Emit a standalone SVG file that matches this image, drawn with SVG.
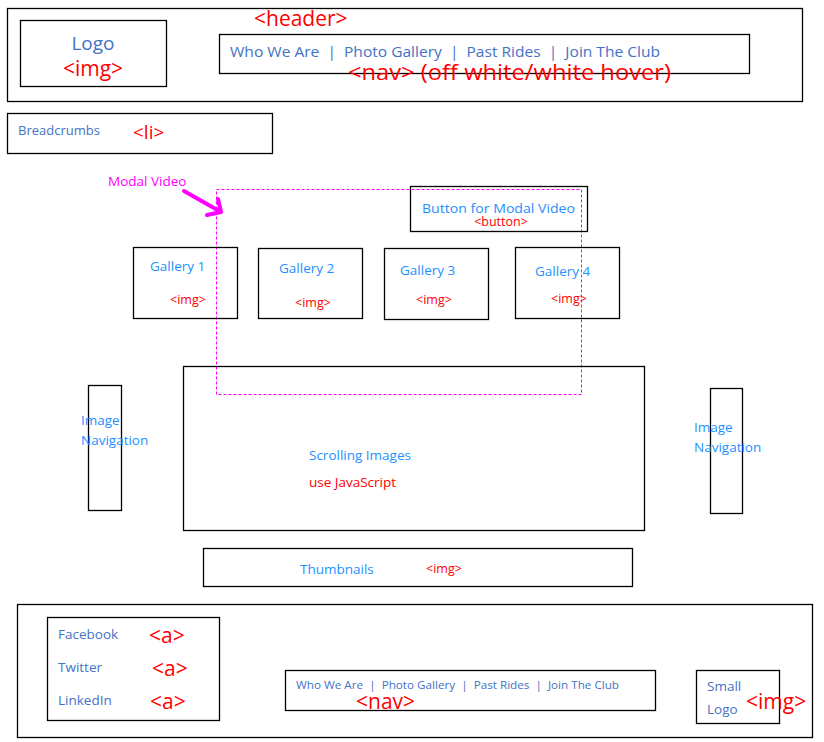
<svg xmlns="http://www.w3.org/2000/svg" width="824" height="742" viewBox="0 0 824 742">
<style>
.box{fill:none;stroke:#000;stroke-width:1.3}
text{font-family:"Open Sans","Liberation Sans",sans-serif}
.b1{fill:#4472C4}
.b2{fill:#1E90FF}
.r{fill:#FF0000}
.m{fill:#FF00FF}
</style>
<rect width="824" height="742" fill="#fff"/>
<g id="header">
<rect class="box" x="7.5" y="8.5" width="795" height="93"/>
<text class="r" x="254" y="26" font-size="21">&lt;header&gt;</text>
</g>
<g id="logo">
<rect class="box" x="20.5" y="20.5" width="146" height="66"/>
<text class="b1" x="93" y="50" font-size="19" text-anchor="middle">Logo</text>
<text class="r" x="93" y="76" font-size="21" text-anchor="middle">&lt;img&gt;</text>
</g>
<g id="nav">
<rect class="box" x="219.5" y="34.5" width="530" height="39"/>
<text class="b1" x="230" y="57" font-size="15" textLength="430" lengthAdjust="spacingAndGlyphs">Who We Are&#160;&#160;|&#160;&#160;Photo Gallery&#160;&#160;|&#160;&#160;Past Rides&#160;&#160;|&#160;&#160;Join The Club</text>
<text class="r" x="348" y="80" font-size="21" textLength="323" lengthAdjust="spacingAndGlyphs">&lt;nav&gt; (off white/white hover)</text>
</g>
<g id="breadcrumbs">
<rect class="box" x="7.5" y="113.5" width="265" height="40"/>
<text class="b1" x="18" y="135" font-size="13">Breadcrumbs</text>
<text class="r" x="133" y="139" font-size="19">&lt;li&gt;</text>
</g>
<g id="modal-video">
<rect x="216.5" y="189.5" width="365" height="205" fill="none" stroke="#FF00FF" stroke-width="1" stroke-dasharray="3,2"/>
<text class="m" x="108" y="186" font-size="13.5">Modal Video</text>
</g>
<g id="button">
<rect class="box" x="410.5" y="186.5" width="177" height="45"/>
<text class="b2" x="422" y="213" font-size="13.5" textLength="153" lengthAdjust="spacingAndGlyphs">Button for Modal Video</text>
<text class="r" x="501" y="226" font-size="12.5" text-anchor="middle">&lt;button&gt;</text>
</g>
<g id="gallery1">
<rect class="box" x="133.5" y="247.5" width="104" height="71"/>
<text class="b2" x="150" y="271" font-size="13.5">Gallery 1</text>
<text class="r" x="170" y="304" font-size="12.5">&lt;img&gt;</text>
</g>
<g id="gallery2">
<rect class="box" x="258.5" y="248.5" width="104" height="70"/>
<text class="b2" x="279" y="273" font-size="13.5">Gallery 2</text>
<text class="r" x="295" y="307" font-size="12.5">&lt;img&gt;</text>
</g>
<g id="gallery3">
<rect class="box" x="384.5" y="248.5" width="104" height="71"/>
<text class="b2" x="400" y="275" font-size="13.5">Gallery 3</text>
<text class="r" x="416" y="304" font-size="12.5">&lt;img&gt;</text>
</g>
<g id="gallery4">
<rect class="box" x="515.5" y="247.5" width="104" height="71"/>
<text class="b2" x="535" y="276" font-size="13.5">Gallery 4</text>
<text class="r" x="551" y="303" font-size="12.5">&lt;img&gt;</text>
</g>
<g id="scrolling">
<rect class="box" x="183.5" y="366.5" width="461" height="164"/>
<text class="b2" x="309" y="460" font-size="13.5">Scrolling Images</text>
<text class="r" x="309" y="487" font-size="13.5">use JavaScript</text>
</g>
<g id="image-nav-left">
<rect class="box" x="88.5" y="385.5" width="33" height="125"/>
<text class="b2" x="81" y="425" font-size="13.5">Image</text>
<text class="b2" x="81" y="445" font-size="13.5">Navigation</text>
</g>
<g id="image-nav-right">
<rect class="box" x="710.5" y="388.5" width="32" height="125"/>
<text class="b2" x="694" y="432" font-size="13.5">Image</text>
<text class="b2" x="694" y="452" font-size="13.5">Navigation</text>
</g>
<g id="thumbnails">
<rect class="box" x="203.5" y="548.5" width="429" height="38"/>
<text class="b2" x="300" y="574" font-size="13.5">Thumbnails</text>
<text class="r" x="426" y="573" font-size="12.5">&lt;img&gt;</text>
</g>
<g id="footer">
<rect class="box" x="17.5" y="604.5" width="795" height="133"/>
</g>
<g id="social">
<rect class="box" x="47.5" y="617.5" width="172" height="103"/>
<text class="b1" x="58" y="639" font-size="13.5">Facebook</text>
<text class="r" x="149" y="643" font-size="21">&lt;a&gt;</text>
<text class="b1" x="58" y="672" font-size="13.5">Twitter</text>
<text class="r" x="152" y="676" font-size="21">&lt;a&gt;</text>
<text class="b1" x="58" y="705" font-size="13.5">LinkedIn</text>
<text class="r" x="150" y="709" font-size="21">&lt;a&gt;</text>
</g>
<g id="footer-nav">
<rect class="box" x="285.5" y="670.5" width="370" height="40"/>
<text class="b1" x="296" y="689" font-size="11" textLength="323" lengthAdjust="spacingAndGlyphs">Who We Are&#160;&#160;|&#160;&#160;Photo Gallery&#160;&#160;|&#160;&#160;Past Rides&#160;&#160;|&#160;&#160;Join The Club</text>
<text class="r" x="356" y="709" font-size="21">&lt;nav&gt;</text>
</g>
<g id="small-logo">
<rect class="box" x="696.5" y="670.5" width="83" height="53"/>
<text class="b1" x="707" y="691" font-size="13.5">Small</text>
<text class="b1" x="707" y="714" font-size="13.5">Logo</text>
<text class="r" x="746" y="709" font-size="21">&lt;img&gt;</text>
</g>
<g id="connectors">
<path d="M184 191 L221 212 M207 215 L221 212 L218 199" fill="none" stroke="#FF00FF" stroke-width="4" stroke-linecap="round" stroke-linejoin="round"/>
</g>
</svg>
